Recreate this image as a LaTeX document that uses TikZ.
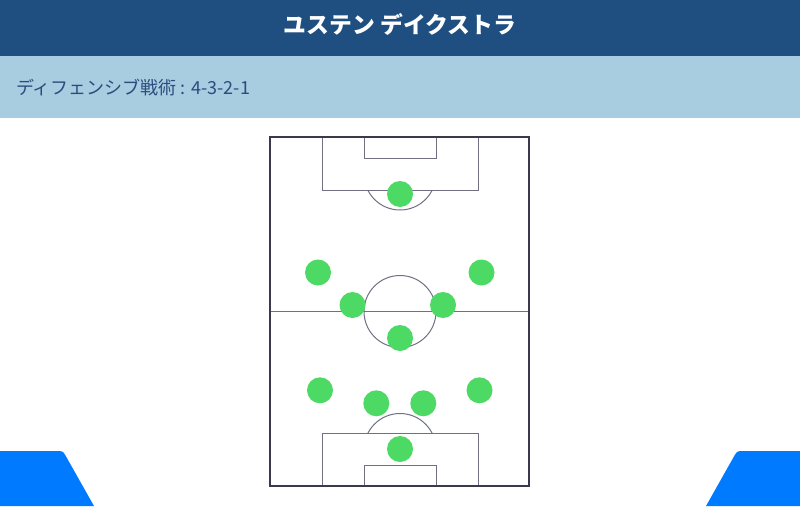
\documentclass[tikz,border=0pt]{standalone}
\usepackage{fontspec}
\newfontfamily\jp{Noto Sans CJK JP}
\definecolor{hdrblue}{RGB}{31,79,128}
\definecolor{bandblue}{RGB}{168,204,224}
\definecolor{subtxt}{RGB}{43,76,126}
\definecolor{tabblue}{RGB}{0,122,255}
\definecolor{plgreen}{RGB}{76,217,100}
\definecolor{border}{RGB}{58,58,76}
\definecolor{pline}{RGB}{112,112,130}
\begin{document}
\begin{tikzpicture}[x=1pt,y=-1pt,
  player/.style={circle,fill=plgreen,minimum size=26pt,inner sep=0pt},
  outerline/.style={draw=border,line width=1.6pt},
  innerline/.style={draw=pline,line width=1pt},
  tab/.style={fill=tabblue}]
\useasboundingbox (0,0) rectangle (800,506);
% header
\fill[hdrblue] (0,0) rectangle (800,56);
\fill[bandblue] (0,56) rectangle (800,118);
\node[text=white,font=\jp\bfseries\fontsize{22.8}{26}\selectfont] (title) at (400,25) {ユステン デイクストラ};
\node[anchor=west,text=subtxt,font=\jp\fontsize{18}{22}\selectfont,inner sep=0pt] (subtitle) at (16,88) {ディフェンシブ戦術 : 4-3-2-1};
% pitch
\draw[innerline] (270,311.5) -- (529,311.5);
\draw[innerline] (400,311.5) circle (36);
\draw[innerline] (322,137) rectangle (478,190.3);
\draw[innerline] (364,137) rectangle (436,158.7);
\draw[innerline] (322,486) rectangle (478,433.3);
\draw[innerline] (364,486) rectangle (436,465);
\begin{scope}
\clip (300,190.3) rectangle (500,230);
\draw[innerline] (400,174) circle (36);
\end{scope}
\begin{scope}
\clip (300,433.3) rectangle (500,400);
\draw[innerline] (400,449.5) circle (36);
\end{scope}
\draw[outerline] (270,137) rectangle (529,486);
% players
\node[player] (gk1) at (400,194) {};
\node[player] (p1) at (318,272.5) {};
\node[player] (p2) at (481.5,272.5) {};
\node[player] (p3) at (352.5,305) {};
\node[player] (p4) at (443,305) {};
\node[player] (p5) at (400,338) {};
\node[player] (p6) at (320,390.3) {};
\node[player] (p7) at (479.5,390.3) {};
\node[player] (p8) at (376.3,403.3) {};
\node[player] (p9) at (423.3,403.3) {};
\node[player] (gk2) at (400,449) {};
% tabs
\fill[tab] (0,506) -- (0,451) -- (56,451) .. controls (63,451) .. (66.4,457.1) -- (94,506) -- cycle;
\fill[tab] (800,506) -- (800,451) -- (744,451) .. controls (737,451) .. (733.6,457.1) -- (706,506) -- cycle;
\end{tikzpicture}
\end{document}
